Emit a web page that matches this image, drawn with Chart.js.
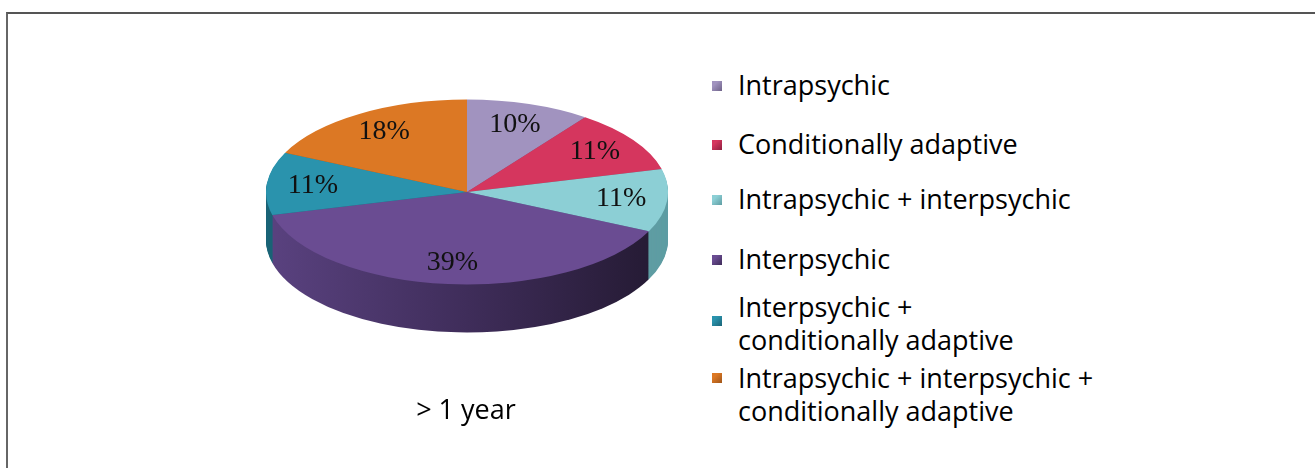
<!DOCTYPE html>
<html>
<head>
<meta charset="utf-8">
<script src="https://cdn.jsdelivr.net/npm/chart.js@4.4.0/dist/chart.umd.min.js"></script>
<style>
  html, body { margin: 0; padding: 0; background: #fff; width: 1315px; height: 468px; overflow: hidden; }
  #frame { position: absolute; left: 6px; top: 12px; right: -10px; bottom: -10px;
           border-top: 2px solid #555; border-left: 2px solid #666; }
  #pieBox { position: absolute; left: 266px; top: -9px; width: 402px; height: 402px; }
  #caption { position: absolute; left: 316px; width: 300px; top: 390px; text-align: center;
             font: 27px "Open Sans", sans-serif; color: #000; }
  .item { position: absolute; left: 738px; font: 27px "Open Sans", sans-serif; line-height: 33px;
          color: #000; white-space: nowrap; }
  .mark { position: absolute; left: 712px; width: 10px; height: 10px; }
</style>
</head>
<body>
<div id="frame"></div>
<div id="pieBox"><canvas id="pie"></canvas></div>
<div id="caption"></div>
<div id="legend"></div>
<script>
// data
const labels = [
  "Intrapsychic",
  "Conditionally adaptive",
  "Intrapsychic + interpsychic",
  "Interpsychic",
  ["Interpsychic +", "conditionally adaptive"],
  ["Intrapsychic + interpsychic +", "conditionally adaptive"]
];
const shares = [10, 11, 11, 39, 11, 18];
const caption = "> 1 year";

// colours
const topColors = ["#a193bf", "#d5365e", "#8ccfd5", "#6a4c92", "#2a93ad", "#dc7824"];
const sideColors = ["#6e6288", "#8e2040", "#5f9da3", "#3e2c58", "#1b6477", "#a0561a"];

// layout of the legend (text top, marker centre)
const legendTops = [68, 127, 182, 242, 290, 361];
const markerMids = [86, 145, 200, 260, 321, 378];

const TILT = 0.46;     // vertical squash of the pie
const DEPTH = 48;      // thickness of the side, px
const LABEL_POS = 0.77;

document.getElementById("caption").textContent = caption;

const legend = document.getElementById("legend");
labels.forEach((lab, i) => {
  const t = document.createElement("div");
  t.className = "item";
  t.style.top = legendTops[i] + "px";
  (Array.isArray(lab) ? lab : [lab]).forEach((line, k) => {
    if (k) t.appendChild(document.createElement("br"));
    t.appendChild(document.createTextNode(line));
  });
  legend.appendChild(t);
  const m = document.createElement("div");
  m.className = "mark";
  m.style.top = (markerMids[i] - 5) + "px";
  m.style.background = "linear-gradient(135deg," + topColors[i] + " 30%," + sideColors[i] + ")";
  legend.appendChild(m);
});

const tilt3d = {
  id: "tilt3d",
  beforeDatasetsDraw(chart) {
    const ctx = chart.ctx;
    const arcs = chart.getDatasetMeta(0).data;
    const cx = arcs[0].x, cy = arcs[0].y, r = arcs[0].outerRadius;
    ctx.save();
    ctx.translate(cx, cy);
    ctx.scale(1, TILT);
    ctx.translate(-cx, -cy);
    const shade = ctx.createLinearGradient(cx - r, 0, cx + r, 0);
    shade.addColorStop(0, "#5a4280");
    shade.addColorStop(0.5, "#3f2d5a");
    shade.addColorStop(1, "#231931");
    for (let d = DEPTH; d > 0; d--) {
      arcs.forEach((arc, i) => {
        const y = arc.y + d / TILT;
        ctx.beginPath();
        ctx.moveTo(arc.x, y);
        ctx.arc(arc.x, y, arc.outerRadius, arc.startAngle, arc.endAngle);
        ctx.closePath();
        ctx.fillStyle = i === 3 ? shade : sideColors[i];
        ctx.fill();
      });
    }
  },
  afterDatasetsDraw(chart) {
    const ctx = chart.ctx;
    ctx.restore();
    const arcs = chart.getDatasetMeta(0).data;
    const total = shares.reduce((a, b) => a + b, 0);
    ctx.save();
    ctx.font = '28px "Liberation Serif", serif';
    ctx.fillStyle = "#111";
    ctx.textAlign = "center";
    ctx.textBaseline = "middle";
    arcs.forEach((arc, i) => {
      const mid = (arc.startAngle + arc.endAngle) / 2;
      const rr = arc.outerRadius * LABEL_POS;
      const x = arc.x + Math.cos(mid) * rr;
      const y = arc.y + Math.sin(mid) * rr * TILT;
      ctx.fillText(Math.round(shares[i] / total * 100) + "%", x, y);
    });
    ctx.restore();
  }
};

new Chart(document.getElementById("pie").getContext("2d"), {
  type: "pie",
  data: {
    labels: labels,
    datasets: [{
      data: shares,
      backgroundColor: topColors,
      borderWidth: 0
    }]
  },
  plugins: [tilt3d],
  options: {
    responsive: true,
    maintainAspectRatio: false,
    animation: false,
    layout: { padding: 0 },
    plugins: {
      legend: { display: false },
      tooltip: { enabled: false }
    }
  }
});
</script>
</body>
</html>
